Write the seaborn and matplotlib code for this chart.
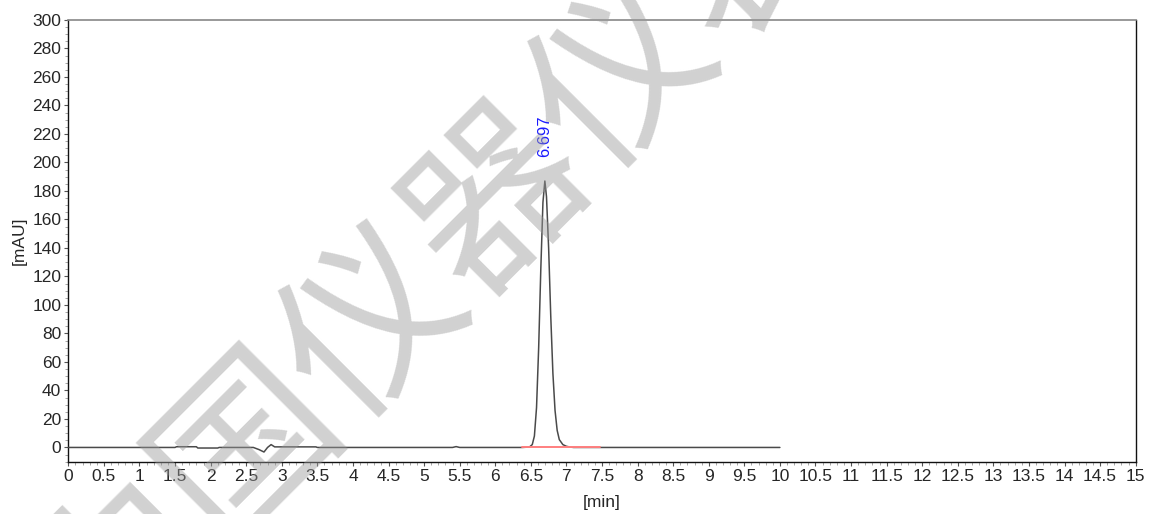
import matplotlib
matplotlib.use("Agg")
import matplotlib.pyplot as plt
import seaborn as sns
import pandas as pd
from matplotlib.ticker import MultipleLocator, FuncFormatter

# ---- data ----
time_min = [0.0, 1.50, 1.52, 1.80, 1.82, 2.10, 2.12, 2.60, 2.68, 2.75, 2.80, 2.85, 2.90,
            3.48, 3.50, 5.40, 5.45, 5.50, 6.38, 6.48, 6.52, 6.55, 6.58, 6.61, 6.64, 6.67,
            6.697, 6.72, 6.75, 6.78, 6.81, 6.84, 6.87, 6.90, 6.95, 7.00, 7.05, 7.10, 10.0]
signal_mau = [0.0, 0.0, 0.5, 0.5, -0.4, -0.4, 0.0, 0.0, -1.5, -3.2, 0.0, 2.0, 0.4,
              0.4, 0.0, 0.0, 0.6, 0.0, 0.0, 0.3, 2.0, 8.0, 28.0, 70.0, 125.0, 172.0,
              187.0, 176.0, 140.0, 92.0, 52.0, 26.0, 12.0, 5.5, 2.0, 0.8, 0.3, 0.0, 0.0]
baseline_t = [6.38, 7.47]
baseline_v = [0.0, 0.0]
peak_rt = 6.697
peak_label = "6.697"
peak_label_y = 204

sns.set_style("white")
plt.rcParams["font.family"] = ["Liberation Sans", "DejaVu Sans"]

fig = plt.figure(figsize=(11.54, 5.14), dpi=100)
ax = fig.add_axes([68.3 / 1154, 1 - 461.7 / 514, (1135.7 - 68.3) / 1154, (461.7 - 20) / 514])

df = pd.DataFrame({"t": time_min, "v": signal_mau})
sns.lineplot(data=df, x="t", y="v", ax=ax, color="#4a4a4a", lw=1.1,
             estimator=None, sort=False, zorder=3)
bdf = pd.DataFrame({"t": baseline_t, "v": baseline_v})
sns.lineplot(data=bdf, x="t", y="v", ax=ax, color="#ff7f7f", lw=1.4,
             estimator=None, sort=False, zorder=4)

ax.text(peak_rt, peak_label_y, peak_label, rotation=90, color="#1a1aff",
        fontsize=12, ha="center", va="bottom")

ax.set_xlim(0, 15)
ax.set_ylim(-10, 300)
ax.xaxis.set_major_locator(MultipleLocator(0.5))
ax.xaxis.set_minor_locator(MultipleLocator(0.1))
ax.yaxis.set_major_locator(MultipleLocator(20))
ax.yaxis.set_minor_locator(MultipleLocator(5))
fmt = FuncFormatter(lambda v, p: ("%g" % v))
ax.xaxis.set_major_formatter(fmt)
ax.yaxis.set_major_formatter(fmt)
ax.tick_params(axis="both", which="major", direction="out", length=3, width=0.8,
               labelsize=12.5, pad=2, color="#555555", bottom=True, left=True)
ax.tick_params(axis="both", which="minor", direction="out", length=2, width=0.6,
               color="#999999", bottom=True, left=True)
ax.set_xlabel("[min]", fontsize=12.5, labelpad=8)
ax.set_ylabel("[mAU]", fontsize=12.5, labelpad=4)

for s in ["left", "bottom", "right"]:
    ax.spines[s].set_color("#111111")
    ax.spines[s].set_linewidth(1.0)
ax.spines["top"].set_color("#888888")
ax.spines["top"].set_linewidth(1.2)

# watermark
fig.text(433 / 1154, 1 - 255 / 514, "中国仪器仪表", fontsize=127, rotation=45,
         color="#9a9a9a", alpha=0.45, ha="center", va="center",
         family=["Noto Sans CJK SC"], fontweight="normal", zorder=10)

fig.savefig("out.png", dpi=100)
